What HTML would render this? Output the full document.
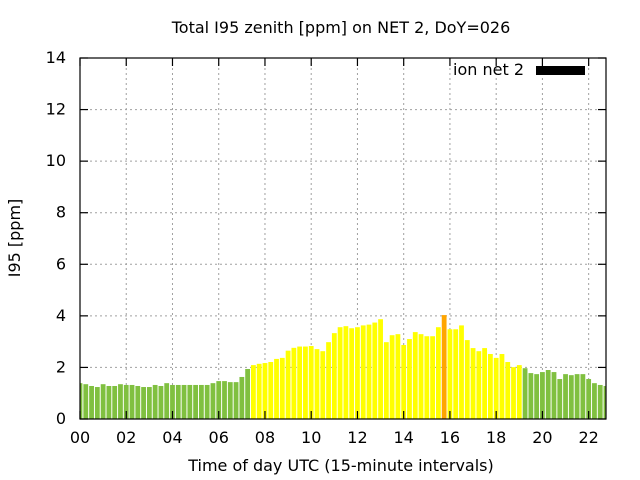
<!DOCTYPE html>
<html><head><meta charset="utf-8"><style>
body{margin:0;background:#fff}
svg{display:block;font-family:"DejaVu Sans",sans-serif}
</style></head><body>
<svg id="s" width="640" height="480" xmlns="http://www.w3.org/2000/svg">
<rect width="640" height="480" fill="#fff"/>
<g id="grid" stroke="#a0a0a0" stroke-width="1" stroke-dasharray="2,3"></g>
<g id="bars"></g>
<g id="axes" stroke="#000" stroke-width="1.2"></g>
<g id="lbl" font-size="16" fill="#000"></g>
<text x="341" y="33" font-size="16" text-anchor="middle">Total I95 zenith [ppm] on NET 2, DoY=026</text>
<text x="341" y="471" font-size="16" text-anchor="middle">Time of day UTC (15-minute intervals)</text>
<text transform="translate(20,238) rotate(-90)" font-size="16" text-anchor="middle">I95 [ppm]</text>
<text x="524" y="75" font-size="16" text-anchor="end">ion net 2</text>
<rect x="536" y="66" width="49" height="9" fill="#000"/>
</svg>
<script>
var v=[1.39,1.35,1.28,1.24,1.35,1.28,1.28,1.35,1.32,1.32,1.28,1.24,1.24,1.32,1.28,1.39,1.32,1.32,1.32,1.32,1.32,1.32,1.32,1.39,1.47,1.47,1.43,1.43,1.63,1.94,
2.09,2.14,2.17,2.21,2.33,2.37,2.65,2.76,2.81,2.81,2.83,2.71,2.63,2.98,3.33,3.56,3.6,3.52,3.56,3.63,3.66,3.74,3.87,2.98,3.25,3.29,2.87,3.1,3.37,3.29,3.21,3.21,3.56,4.03,3.48,3.48,3.63,
3.06,2.75,2.63,2.75,2.52,2.37,2.52,2.21,2.01,2.09,1.97,1.78,1.74,1.82,1.9,1.82,1.55,1.74,1.7,1.74,1.74,1.55,1.39,1.32,1.28];
var L=80,R=606,T=58,B=419,NS="http://www.w3.org/2000/svg";
function X(h){return L+h*(R-L)/22.75}
function Y(u){return B-u*(B-T)/14}
function el(p,t,a,txt){var e=document.createElementNS(NS,t);for(var k in a)e.setAttribute(k,a[k]);if(txt!=null)e.textContent=txt;document.getElementById(p).appendChild(e);return e}
for(var i=2;i<=12;i+=2)el("grid","line",{x1:L,x2:R,y1:Y(i),y2:Y(i)});
for(var h=2;h<=22;h+=2)el("grid","line",{x1:X(h),x2:X(h),y1:T,y2:B});
var bw=4.8;
for(var k=0;k<v.length;k++){var c=v[k]>=4?"#ffa500":(v[k]>=2||(k>=30&&k<=76)?"#ffff00":"#80c040");
var x0=X(k*0.25)-bw/2,x1=x0+bw;if(x0<L)x0=L;if(x1>R)x1=R;
el("bars","rect",{x:x0,y:Y(v[k]),width:x1-x0,height:B-Y(v[k]),fill:c});}
el("axes","rect",{x:L,y:T,width:R-L,height:B-T,fill:"none"});
for(var i=0;i<=14;i+=2){el("axes","line",{x1:L,x2:L+8,y1:Y(i),y2:Y(i)});el("axes","line",{x1:R,x2:R-8,y1:Y(i),y2:Y(i)});
el("lbl","text",{x:66,y:Y(i)+5,"text-anchor":"end"},String(i));}
for(var h=0;h<=22;h+=2){el("axes","line",{x1:X(h),x2:X(h),y1:B,y2:B-8});el("axes","line",{x1:X(h),x2:X(h),y1:T,y2:T+8});
el("lbl","text",{x:X(h),y:443,"text-anchor":"middle"},(h<10?"0":"")+h);}
</script>
</body></html>
